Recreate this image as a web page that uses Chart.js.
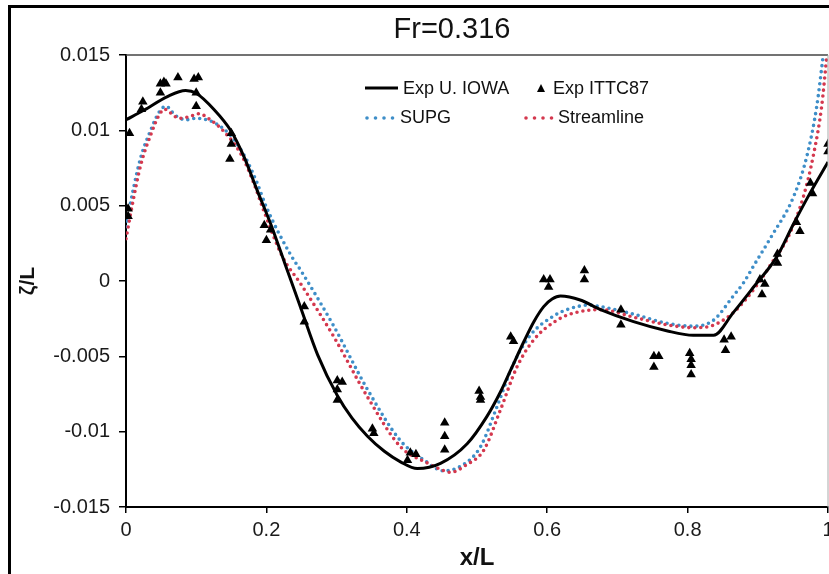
<!DOCTYPE html>
<html>
<head>
<meta charset="utf-8">
<script src="https://cdn.jsdelivr.net/npm/chart.js@4.4.1/dist/chart.umd.min.js"></script>
<style>
    html, body { margin: 0; padding: 0; background: #fff; overflow: hidden; }
    #wrap { position: absolute; left: 0; top: 0; width: 880px; height: 574px; }
</style>
</head>
<body>
<div id="wrap"><canvas id="waveChart"></canvas></div>
<script>
// axis ticks
const xTicks = [0, 0.2, 0.4, 0.6, 0.8, 1];
const xTickLabels = ["0", "0.2", "0.4", "0.6", "0.8", "1"];
const yTicks = [-0.015, -0.01, -0.005, 0, 0.005, 0.01, 0.015];
const yTickLabels = ["-0.015", "-0.01", "-0.005", "0", "0.005", "0.01", "0.015"];

// Exp U. IOWA (solid black line)
const iowaX = [0, 0.026, 0.059, 0.085, 0.1, 0.126, 0.149, 0.168, 0.187, 0.206, 0.226, 0.249, 0.273, 0.301,
    0.322, 0.344, 0.368, 0.391, 0.415, 0.448, 0.486, 0.514, 0.533, 0.548, 0.567, 0.581, 0.595, 0.607, 0.619,
    0.647, 0.676, 0.723, 0.77, 0.808, 0.837, 0.865, 0.894, 0.927, 0.951, 0.974, 1.0];
const iowaY = [0.0107, 0.01135, 0.01224, 0.01264, 0.01246, 0.01135, 0.0100, 0.00825, 0.0060, 0.0038, 0.0012,
    -0.0018, -0.0049, -0.0076, -0.0091, -0.0103, -0.0113, -0.0120, -0.01245, -0.0121, -0.0108, -0.0090,
    -0.0074, -0.0059, -0.0040, -0.0027, -0.0017, -0.0012, -0.0010, -0.00126, -0.0019, -0.0027, -0.0033,
    -0.0036, -0.0036, -0.0021, -0.0004, 0.0016, 0.0038, 0.0058, 0.0079];

// Exp ITTC87 (triangles)
const ittcX = [0.005, 0.003, 0.003, 0.024, 0.022, 0.049, 0.054, 0.057, 0.049, 0.074, 0.097, 0.103, 0.1, 0.1,
    0.15, 0.15, 0.148, 0.197, 0.206, 0.2, 0.254, 0.254, 0.301, 0.308, 0.301, 0.301, 0.351, 0.353,
    0.401, 0.405, 0.413, 0.454, 0.454, 0.454, 0.503, 0.505, 0.505, 0.548, 0.552, 0.595, 0.604, 0.602,
    0.653, 0.653, 0.705, 0.705, 0.752, 0.759, 0.752, 0.803, 0.805, 0.805, 0.805, 0.852, 0.862, 0.854,
    0.903, 0.91, 0.906, 0.928, 0.928, 0.955, 0.96, 0.975, 0.978, 1.0, 1.0];
const ittcY = [0.0098, 0.0048, 0.0043, 0.0119, 0.0114, 0.0131, 0.0132, 0.0131, 0.0125, 0.0135, 0.0134, 0.0135,
    0.0125, 0.0116, 0.0098, 0.0091, 0.0081, 0.0037, 0.0034, 0.0027, -0.0017, -0.0027, -0.0066, -0.0067,
    -0.0072, -0.0079, -0.0098, -0.0101, -0.0119, -0.0114, -0.0115, -0.0094, -0.0103, -0.0112, -0.0073,
    -0.0077, -0.0079, -0.0037, -0.0040, 0.0001, 0.0001, -0.0004, 0.0007, 0.0001, -0.0019, -0.0029,
    -0.0050, -0.0050, -0.0057, -0.0048, -0.0052, -0.0056, -0.0062, -0.0039, -0.0037, -0.0046, 0.0001,
    -0.0002, -0.0009, 0.0018, 0.0012, 0.0039, 0.0033, 0.0065, 0.0058, 0.0091, 0.0086];

// SUPG (blue dots)
const supgX = [0, 0.01, 0.021, 0.036, 0.047, 0.057, 0.07, 0.085, 0.1, 0.115, 0.13, 0.15, 0.17, 0.186, 0.2,
    0.235, 0.249, 0.296, 0.344, 0.391, 0.425, 0.452, 0.48, 0.505, 0.528, 0.552, 0.576, 0.61, 0.628, 0.66,
    0.676, 0.723, 0.77, 0.808, 0.837, 0.865, 0.88, 0.894, 0.92, 0.951, 0.97, 0.984, 0.993];
const supgY = [0.0036, 0.0060, 0.0082, 0.0101, 0.0112, 0.0116, 0.0110, 0.0107, 0.0108, 0.0107, 0.0104, 0.0096,
    0.0082, 0.0066, 0.0049, 0.0017, 0.0007, -0.0030, -0.0072, -0.0106, -0.0119, -0.0126, -0.0122, -0.0110,
    -0.0084, -0.0055, -0.0036, -0.0023, -0.0019, -0.0016, -0.0017, -0.0022, -0.0028, -0.0030, -0.0026,
    -0.0010, -0.0001, 0.0010, 0.0030, 0.0056, 0.0083, 0.0116, 0.0149];

// Streamline (red dots)
const streamX = [0, 0.01, 0.021, 0.036, 0.047, 0.055, 0.065, 0.075, 0.09, 0.104, 0.12, 0.14, 0.164, 0.182,
    0.196, 0.223, 0.249, 0.296, 0.344, 0.391, 0.43, 0.448, 0.462, 0.485, 0.51, 0.533, 0.557, 0.581, 0.614,
    0.64, 0.676, 0.723, 0.77, 0.808, 0.832, 0.865, 0.9, 0.92, 0.944, 0.965, 0.979, 0.991, 0.998];
const streamY = [0.0028, 0.0053, 0.0077, 0.0098, 0.0110, 0.0114, 0.0111, 0.0108, 0.0109, 0.0111, 0.0107,
    0.0099, 0.0084, 0.0065, 0.0047, 0.0016, -0.0002, -0.0037, -0.0077, -0.0110, -0.0121, -0.0125, -0.0127,
    -0.0122, -0.0112, -0.0086, -0.0057, -0.0039, -0.0026, -0.0021, -0.0019, -0.0024, -0.0029, -0.0031,
    -0.0030, -0.0021, -0.0002, 0.0012, 0.0030, 0.0056, 0.0083, 0.0116, 0.0148];

const BLUE = "rgb(62,142,200)";
const RED = "rgb(212,56,78)";
const FONT = "'Liberation Sans', Arial, sans-serif";

function toPoints(xs, ys) {
    return xs.map((x, i) => ({ x: x, y: ys[i] }));
}

// frame, plot border, title and legend
const decorPlugin = {
    id: "decor",
    beforeDraw(chart) {
        const c = chart.ctx;
        c.save();
        c.fillStyle = "#fff";
        c.fillRect(0, 0, chart.width, chart.height);
        c.fillStyle = "#000";
        c.fillRect(8, 5, 3, chart.height);
        c.fillRect(8, 5, chart.width, 3);
        c.restore();
    },
    afterDraw(chart) {
        const c = chart.ctx;
        const a = chart.chartArea;
        c.save();
        c.strokeStyle = "#444";
        c.lineWidth = 1.5;
        c.beginPath();
        c.moveTo(a.left, a.top);
        c.lineTo(a.right, a.top);
        c.stroke();
        c.strokeStyle = "#aaa";
        c.lineWidth = 1;
        c.beginPath();
        c.moveTo(a.right, a.top);
        c.lineTo(a.right, a.bottom);
        c.stroke();

        c.fillStyle = "#111";
        c.font = "29px " + FONT;
        c.textAlign = "center";
        c.textBaseline = "alphabetic";
        c.fillText("Fr=0.316", 452, 38);

        c.font = "18px " + FONT;
        c.textAlign = "left";
        c.textBaseline = "middle";
        // row 1
        c.strokeStyle = "#000";
        c.lineWidth = 3;
        c.beginPath();
        c.moveTo(365, 88);
        c.lineTo(398, 88);
        c.stroke();
        c.fillStyle = "#111";
        c.fillText("Exp U. IOWA", 403, 89);
        c.fillStyle = "#000";
        c.beginPath();
        c.moveTo(541, 84);
        c.lineTo(545, 92);
        c.lineTo(537, 92);
        c.closePath();
        c.fill();
        c.fillStyle = "#111";
        c.fillText("Exp ITTC87", 553, 89);
        // row 2
        [[367, BLUE], [526, RED]].forEach(([x0, col]) => {
            c.fillStyle = col;
            for (let k = 0; k < 4; k++) {
                c.beginPath();
                c.arc(x0 + k * 8.5, 118, 1.8, 0, Math.PI * 2);
                c.fill();
            }
        });
        c.fillStyle = "#111";
        c.fillText("SUPG", 400, 118);
        c.fillText("Streamline", 558, 118);
        c.restore();
    }
};

const ctx = document.getElementById("waveChart");

new Chart(ctx, {
    type: "scatter",
    data: {
        datasets: [
            {
                label: "Exp ITTC87",
                data: toPoints(ittcX, ittcY),
                pointStyle: "triangle",
                pointRadius: 5.5,
                backgroundColor: "#000",
                borderColor: "#000",
                borderWidth: 0
            },
            {
                label: "Exp U. IOWA",
                data: toPoints(iowaX, iowaY),
                showLine: true,
                cubicInterpolationMode: "monotone",
                borderColor: "#000",
                borderWidth: 3,
                pointRadius: 0
            },
            {
                label: "Streamline",
                data: toPoints(streamX, streamY),
                showLine: true,
                cubicInterpolationMode: "monotone",
                borderColor: RED,
                borderWidth: 3.6,
                borderCapStyle: "round",
                borderDash: [0, 6],
                pointRadius: 0
            },
            {
                label: "SUPG",
                data: toPoints(supgX, supgY),
                showLine: true,
                cubicInterpolationMode: "monotone",
                borderColor: BLUE,
                borderWidth: 3.6,
                borderCapStyle: "round",
                borderDash: [0, 6],
                pointRadius: 0
            }
        ]
    },
    options: {
        responsive: true,
        maintainAspectRatio: false,
        animation: false,
        layout: { padding: { left: 12, top: 55, right: 52, bottom: 0 } },
        plugins: {
            legend: { display: false },
            tooltip: { enabled: false }
        },
        scales: {
            x: {
                type: "linear",
                min: 0,
                max: 1,
                afterBuildTicks: axis => { axis.ticks = xTicks.map(v => ({ value: v })); },
                afterFit: axis => { axis.height = 67; },
                ticks: {
                    callback: (v, i) => xTickLabels[i],
                    font: { family: FONT, size: 20 },
                    color: "#1a1a1a",
                    padding: 5,
                    maxRotation: 0
                },
                grid: { drawOnChartArea: false, tickLength: 6, color: "#000", lineWidth: 1.5 },
                border: { color: "#000", width: 2 },
                title: {
                    display: true,
                    text: "x/L",
                    font: { family: FONT, size: 24, weight: "bold" },
                    color: "#111",
                    padding: { top: 0, bottom: 1 }
                }
            },
            y: {
                type: "linear",
                min: -0.015,
                max: 0.015,
                afterBuildTicks: axis => { axis.ticks = yTicks.map(v => ({ value: v })); },
                afterFit: axis => { axis.width = 114; },
                ticks: {
                    callback: (v, i) => yTickLabels[i],
                    font: { family: FONT, size: 20 },
                    color: "#1a1a1a",
                    padding: 9
                },
                grid: { drawOnChartArea: false, tickLength: 7, color: "#000", lineWidth: 1.5 },
                border: { color: "#000", width: 2 },
                title: {
                    display: true,
                    text: "ζ/L",
                    font: { family: FONT, size: 21, weight: "bold" },
                    color: "#111",
                    padding: { top: 4, bottom: 0 }
                }
            }
        }
    },
    plugins: [decorPlugin]
});
</script>
</body>
</html>
